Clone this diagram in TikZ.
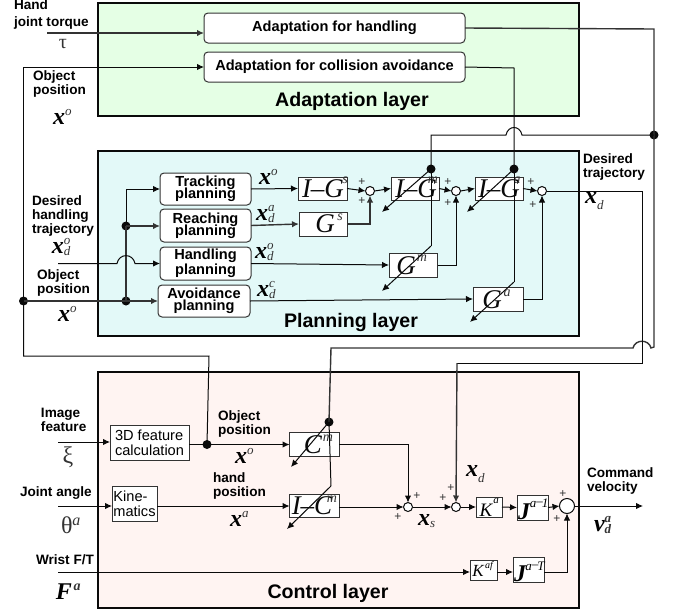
\documentclass[tikz,border=0pt]{standalone}
\usepackage{fontspec}
\setmainfont{Liberation Serif}
\setsansfont{Liberation Sans}
\usetikzlibrary{arrows.meta,calc}
\definecolor{adaptc}{HTML}{E5FFE5}
\definecolor{planc}{HTML}{E3F9F8}
\definecolor{ctrlc}{HTML}{FFF4F2}
\definecolor{ln}{HTML}{0A0A0A}
\definecolor{lng}{HTML}{333333}
\definecolor{scr}{HTML}{333333}
\newcommand\lfont{\fontsize{13.6}{14}\selectfont\sffamily\bfseries}
\newcommand\mybb[1]{\mbox{\fontsize{24}{24}\selectfont\bfseries\itshape #1}}
\newcommand\myss[1]{\mbox{\fontsize{13}{13}\selectfont\itshape\color{scr}#1}}
\newcommand\mysym[3]{$\mybb{#1}^{\myss{#2}}_{\myss{#3}}$}
\newcommand\mysymu[2]{$\mybb{#1}^{\myss{#2}}$}
\newcommand\mysymd[2]{$\mybb{#1}_{\myss{#2}}$}
\newcommand\mybl[1]{\mbox{\fontsize{27}{27}\selectfont\itshape\color{ln}#1}}
\newcommand\mybs[1]{\mbox{\fontsize{14}{14}\selectfont\itshape\color{scr}#1}}
\newcommand\boxn[7][blk]{%
  \node[#1,minimum width=#5pt-#3pt,minimum height=#6pt-#4pt] (#2) at ({(#3+#5)/2},{(#4+#6)/2}) {#7};}
\tikzset{
  every node/.style={inner sep=0pt,outer sep=0pt},
  layer/.style={draw=ln,line width=1.3pt},
  blk/.style={draw=lng,fill=white,line width=1pt},
  rnd/.style={blk,rounded corners=4pt,align=center,font=\fontsize{14.6}{12}\selectfont\sffamily\bfseries},
  rndw/.style={rnd,font=\fontsize{14.6}{14.5}\selectfont\sffamily\bfseries},
  rndm/.style={rnd,font=\fontsize{14.6}{12.5}\selectfont\sffamily\bfseries},
  adp/.style={rnd},
  calcbox/.style={blk,align=left,font=\fontsize{14.6}{15}\selectfont\sffamily},
  sumn/.style={circle,draw=ln,fill=white,line width=1pt,minimum size=9pt},
  bigsum/.style={circle,draw=ln,fill=white,line width=1pt,minimum size=15pt},
  dotn/.style={circle,fill=ln,minimum size=9pt},
  wire/.style={draw=ln,line width=1pt},
  wireg/.style={draw=lng,line width=1.4pt},
  arr/.style={-{Latex[length=7pt,width=6.5pt]}},
  lab/.style={font=\lfont,align=left,anchor=west},
  title/.style={font=\fontsize{19.6}{20}\selectfont\sffamily\bfseries},
  plus/.style={font=\fontsize{12}{12}\selectfont\sffamily,text=scr},
}
\begin{document}
\begin{tikzpicture}[x=1pt,y=-1pt]
\lineskiplimit=-20pt\relax
\useasboundingbox (0,0) rectangle (681,611);
% layers
\boxn[layer,fill=adaptc]{adaptL}{98}{3}{579}{116}{}
\boxn[layer,fill=planc]{planL}{98}{151}{579}{336}{}
\boxn[layer,fill=ctrlc]{ctrlL}{98}{372}{579}{608}{}
\node[title] (adaptT) at (352,101) {Adaptation layer};
\node[title] (planT) at (351,322) {Planning layer};
\node[title] (ctrlT) at (328,593) {Control layer};
% adaptation
\boxn[adp]{handl}{204}{13}{465}{43}{Adaptation for handling}
\boxn[adp]{coll}{204}{52}{465}{82}{Adaptation for collision avoidance}
% planning
\boxn[rnd]{track}{160}{173}{251}{205}{Tracking\\planning}
\boxn[rnd]{reach}{160}{209}{251}{242}{Reaching\\planning}
\boxn[rndw]{hplan}{160}{247}{251}{280}{Handling\\planning}
\boxn[rndm]{avoid}{158}{285}{250}{317}{Avoidance\\planning}
\boxn{igs}{298}{177}{347}{200}{}
\boxn{gs}{299}{212}{347}{236}{}
\boxn{igm}{391}{177}{439}{200}{}
\boxn{iga}{475}{177}{523}{200}{}
\boxn{gm}{389}{253}{437.5}{277}{}
\boxn{ga}{473}{287}{523}{311}{}
\node[sumn] (s1) at (370,191) {};
\node[sumn] (s2) at (456,191) {};
\node[sumn] (s3) at (542,191) {};
% control
\boxn[calcbox]{feat}{110}{425}{189}{460}{3D feature\\calculation}
\boxn[calcbox]{kin}{112}{486}{157}{521}{Kine-\\matics}
\boxn{cm}{289.5}{432}{339}{456}{}
\boxn{icm}{289.5}{494}{339}{517}{}
\boxn{ka}{476}{497}{502}{517}{}
\boxn{jainv}{517}{495}{548}{520}{}
\boxn{kaf}{470}{560}{497}{580}{}
\boxn{jat}{513}{557}{544}{582}{}
\node[sumn] (s4) at (408,507) {};
\node[sumn] (s5) at (456,507) {};
\node[bigsum] (s6) at (567,506) {};
% block texts
\node at (323,189) {\mybl{I--G}};\node at (345,180) {\mybs{s}};
\node at (325,224) {\mybl{G}};\node at (340,217) {\mybs{s}};
\node at (416,189) {\mybl{I--G}};\node at (433,180) {\mybs{m}};
\node at (499,189) {\mybl{I--G}};\node at (517,180) {\mybs{a}};
\node at (406,266) {\mybl{G}};\node at (422,258) {\mybs{m}};
\node at (492,300) {\mybl{G}};\node at (507,293) {\mybs{a}};
\node at (313,445) {\mybl{C}};\node at (328,438) {\mybs{m}};
\node at (312,506) {\mybl{I--C}};\node at (332,499) {\mybs{m}};
\node at (486,510) {\mbox{\fontsize{19}{19}\selectfont\itshape K}};\node at (496,501) {\mbox{\fontsize{11}{11}\selectfont\itshape a}};
\node at (524,512) {\mybb{J}};\node at (539,503) {\mbox{\fontsize{13}{13}\selectfont\itshape a\raisebox{2pt}{--}\kern-1pt 1}};
\node at (478,571) {\mbox{\fontsize{17}{17}\selectfont\itshape K}};\node at (489,566) {\mbox{\fontsize{10}{10}\selectfont\itshape af}};
\node at (520,574) {\mybb{J}};\node at (535,566) {\mbox{\fontsize{13}{13}\selectfont\itshape a\raisebox{2pt}{--}\kern-1pt T}};
% junctions
\coordinate (tauIn) at (47,33);
\node[dotn] (dObj) at (23.5,301) {};
\node[dotn] (dBusA) at (126,301) {};
\node[dotn] (dBusB) at (126,226) {};
\node[dotn] (dFeed) at (654,135) {};
\node[dotn] (dIgm) at (431,169) {};
\node[dotn] (dIga) at (514,169) {};
\node[dotn] (dCm) at (329,422) {};
\node[dotn] (dFeat) at (207,444.5) {};
\coordinate (yImg) at (0,442);
\coordinate (yKin) at (0,506);
\coordinate (yWr) at (0,572);
% inputs
\draw[wireg,arr] (tauIn) -- (tauIn -| handl.west);
\draw[wire,arr] (dObj.center) |- (coll.west);
\draw[wire] (dObj.center) -- (23.5,356) -- (209,356) -- (dFeat.center);
\draw[wireg,arr] (dObj.center) -- (avoid.west);
\draw[wireg] (dBusA.center) -- (dBusB.center);
\draw[wire,arr] (dBusB.center) |- (track.west);
\draw[wireg,arr] (dBusB.center) -- (dBusB -| reach.west);
\coordinate (hIn) at (58,263.5);
\draw[wire,arr] (hIn) -- (117,263.5) .. controls (119,253) and (133,253) .. (135,263.5) -- (hplan.west);
% planning forward
\draw[wire,arr] (track.east) -- (igs.west);
\draw[wireg,arr] (reach.east) -- (gs.west);
\draw[wire,arr] (hplan.east) -- (gm.west);
\draw[wire,arr] (avoid.east) -- (ga.west);
\draw[wire,arr] (igs.east) -- (s1.west);
\draw[wire,arr] (s1.east) -- (igm.west);
\draw[wire,arr] (igm.east) -- (s2.west);
\draw[wire,arr] (s2.east) -- (iga.west);
\draw[wire,arr] (iga.east) -- (s3.west);
\draw[wireg,arr] (gs.east) -| (s1.south);
\draw[wire,arr] (gm.east) -| (s2.south);
\draw[wire,arr] (ga.east) -| (s3.south);
% adaptation feed lines
\draw[wireg] (handl.east) -- (654,29) -- (dFeed.center);
\draw[wireg] (dFeed.center) -- (654,347) -- (651,348) .. controls (649,339) and (635,339) .. (633,348) -- (331,348) -- (dCm.center);
\draw[wire] (dFeed.center) -- (522,135) .. controls (520,125) and (508,125) .. (506,135) -- (431,135) -- (dIgm.center);
\draw[wire] (coll.east) -- (514,68) -- (dIga.center);
% gain lines
\draw[wire] (dIgm.center) -- (431,246);
\coordinate (gmEnd) at (382,291);
\draw[wire,arr] (431,246) -- (gmEnd);
\coordinate (igmEnd) at (382,212);
\draw[wire,arr] (dIgm.center) -- (igmEnd);
\draw[wire] (dIga.center) -- (514,282);
\coordinate (gaEnd) at (470,322);
\draw[wire,arr] (514,282) -- (gaEnd);
\coordinate (igaEnd) at (467,212);
\draw[wire,arr] (dIga.center) -- (igaEnd);
% x_d output
\draw[wire] (s3.east) -- (642,191) -- (642,363) -- (457,363);
\draw[wireg,arr] (457,363) -- (s5.north);
% control
\draw[wire,arr] (58,442) -- (feat.west |- yImg);
\draw[wire,arr] (feat.east |- dFeat) -- (cm.west |- dFeat);
\draw[wire,arr] (58,506) -- (kin.west |- yKin);
\draw[wire,arr] (kin.east |- yKin) -- (icm.west |- yKin);
\draw[wire,arr] (cm.east) -| (s4.north);
\draw[wire,arr] (icm.east |- s4) -- (s4.west);
\draw[wire,arr] (s4.east) -- (s5.west);
\draw[wire,arr] (s5.east) -- (ka.west);
\draw[wire,arr] (ka.east) -- (jainv.west);
\draw[wire,arr] (jainv.east) -- (s6.west);
\coordinate (outEnd) at (643,506);
\draw[wire,arr] (s6.east) -- (outEnd);
\draw[wire,arr] (58,572) -- (kaf.west |- yWr);
\draw[wire,arr] (kaf.east |- yWr) -- (jat.west |- yWr);
\draw[wire,arr] (jat.east |- yWr) -| (s6.south);
\draw[wire] (dCm.center) -- (331,486);
\coordinate (cmEnd) at (291,467);
\draw[wire,arr] (dCm.center) -- (cmEnd);
\coordinate (icmEnd) at (287,529);
\draw[wire,arr] (331,486) -- (icmEnd);
% plus signs
\foreach \px/\py in {362/182,362/201,448/182,448/203,531/182,533/205,417/496,398/517,451/488,443/498,563/494,557/519}
  \node[plus] at (\px,\py) {+};
% labels
\node[lab] at (14,5) {Hand};
\node[lab] at (14,23) {joint torque};
\node at (63,44) {\fontsize{20}{20}\selectfont\color{scr}τ};
\node[lab] at (33,84) {Object\\position};
\node[anchor=west] at (53,117) {\mysymu{x}{o}};
\node[lab] at (32,216) {Desired\\handling\\trajectory};
\node[anchor=west] at (52,247) {\mysym{x}{o}{d}};
\node[lab] at (37,283) {Object\\position};
\node[anchor=west] at (58,314) {\mysymu{x}{o}};
\node[anchor=west] at (259,177) {\mysymu{x}{o}};
\node[anchor=west] at (256,214) {\mysym{x}{a}{d}};
\node[anchor=west] at (255,252) {\mysym{x}{o}{d}};
\node[anchor=west] at (257,290) {\mysym{x}{c}{d}};
\node[lab] at (583,167) {Desired\\trajectory};
\node[anchor=west] at (585,201) {\mysymd{x}{d}};
\node[lab] at (41,420) {Image\\feature};
\node at (68,457) {\fontsize{24}{24}\selectfont\color{scr}ξ};
\node[lab] at (20,493) {Joint angle};
\node[anchor=west] at (61,525) {\fontsize{24}{24}\selectfont\color{scr}θ\raisebox{8pt}{\fontsize{16}{16}\selectfont\itshape a}};
\node[lab] at (36,560) {Wrist F/T};
\node[anchor=west] at (56,592) {\mybb{F}\,\raisebox{9pt}{\fontsize{14}{14}\selectfont\bfseries\itshape\color{scr}a}};
\node[lab] at (218,424) {Object\\position};
\node[anchor=west] at (235,456) {\mysymu{x}{o}};
\node[lab] at (213,486) {hand\\position};
\node[anchor=west] at (230,519) {\mysymu{x}{a}};
\node[anchor=west] at (466,474) {\mysymd{x}{d}};
\node[anchor=west] at (418,521) {\mysymd{x}{s}};
\node[lab] at (587,481) {Command\\velocity};
\node[anchor=west] at (594,525) {$\mybb{v}^{\myss{\bfseries a}}_{\myss{\bfseries d}}$};
\end{tikzpicture}
\end{document}
